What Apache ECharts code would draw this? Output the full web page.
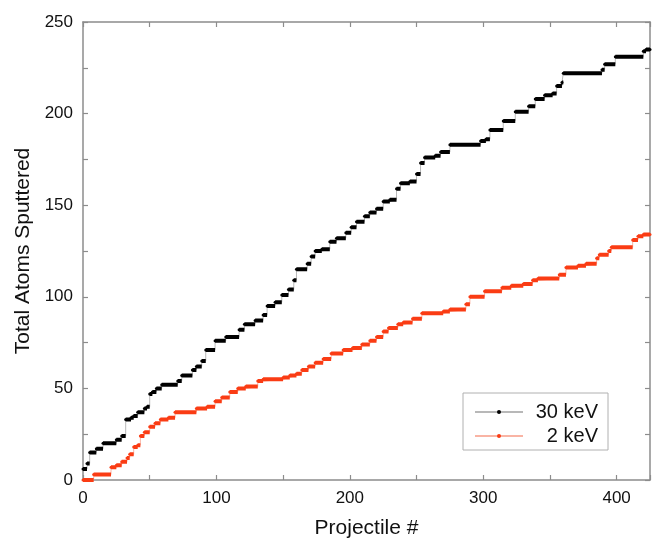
<!DOCTYPE html>
<html>
<head>
<meta charset="utf-8">
<script src="https://cdn.jsdelivr.net/npm/echarts@6/dist/echarts.min.js"></script>
<style>
html,body{margin:0;padding:0;background:#fff}
#MyChart{width:652px;height:540px}
</style>
</head>
<body>
<div id="MyChart"></div>
<script>
// projectile # where the running total changes, and the new total
var kev30X = [0, 3, 5, 10, 15, 25, 29, 32, 36, 38, 41, 46, 48, 50, 52, 55, 59, 71, 74, 82,
	85, 89, 92, 99, 107, 117, 121, 129, 135, 138, 144, 149, 154, 158, 160, 168, 171, 174, 179, 185,
	190, 197, 201, 205, 211, 215, 220, 225, 230, 235, 238, 245, 250, 253, 256, 264, 268, 275, 298, 302,
	305, 315, 324, 334, 339, 346, 352, 355, 359, 360, 389, 391, 399, 420, 422, 425];
var kev30Y = [6, 9, 15, 17, 20, 22, 24, 33, 34, 35, 37, 39, 40, 47, 48, 50, 52, 54, 57, 60,
	62, 65, 71, 76, 78, 82, 85, 87, 90, 95, 97, 101, 104, 109, 115, 118, 122, 125, 126, 130,
	132, 135, 138, 141, 144, 146, 148, 152, 153, 159, 162, 163, 167, 173, 176, 177, 179, 183, 185, 186,
	191, 196, 201, 204, 208, 210, 211, 215, 217, 222, 224, 227, 231, 234, 235, 235];

var kev2X = [0, 8, 21, 25, 29, 33, 35, 38, 41, 43, 46, 50, 54, 58, 64, 69, 85, 93, 99, 104,
	110, 116, 122, 131, 135, 150, 155, 160, 164, 169, 174, 180, 186, 195, 202, 209, 215, 220, 225, 229,
	236, 240, 247, 254, 270, 275, 287, 290, 301, 314, 321, 330, 337, 341, 357, 362, 371, 377, 385, 387,
	394, 396, 412, 416, 420, 425];
var kev2Y = [0, 3, 7, 8, 10, 12, 14, 18, 19, 24, 26, 29, 31, 33, 34, 37, 39, 40, 43, 45,
	48, 50, 51, 54, 55, 56, 57, 58, 60, 62, 64, 66, 69, 71, 72, 74, 76, 78, 81, 83,
	85, 86, 88, 91, 92, 93, 96, 100, 103, 105, 106, 107, 109, 110, 112, 116, 117, 118, 121, 123,
	125, 127, 131, 133, 134, 134];

var seriesNames = ['30 keV', '2 keV'];

var FONT = 'Liberation Sans, Arial, sans-serif';
var AXIS_GRAY = '#8c8c8c';

// breakpoints -> points for the step line
function toPoints(xs, ys) {
	var a = [];
	for (let i = 0; i < xs.length; i++) a.push([xs[i], ys[i]]);
	return a;
}
// breakpoints -> flat thick pieces (one per level), broken between levels
function toDashes(xs, ys) {
	var a = [];
	for (let i = 0; i < xs.length - 1; i++) {
		a.push([xs[i], ys[i]]);
		a.push([xs[i + 1], ys[i]]);
		a.push([xs[i + 1], '-']);
	}
	return a;
}

function frameAxis(pos, isX) {
	return {
		type: 'value',
		position: pos,
		min: 0,
		max: isX ? 425 : 250,
		interval: isX ? 50 : 25,
		axisLine: { show: true, onZero: false, lineStyle: { color: AXIS_GRAY, width: 1.5 } },
		axisTick: { show: true, inside: true, length: 5, lineStyle: { color: AXIS_GRAY, width: 1.2 } },
		axisLabel: { show: false },
		splitLine: { show: false }
	};
}

var option = {
	backgroundColor: '#fff',
	animation: false,
	grid: { left: 83, right: 2, top: 22, bottom: 60, containLabel: false, outerBoundsMode: 'none' },
	legend: {
		data: seriesNames,
		orient: 'vertical',
		left: 463,
		top: 393,
		itemWidth: 48,
		itemHeight: 5,
		itemGap: 4,
		padding: [9, 10, 4, 11],
		borderColor: '#b0b0b0',
		borderWidth: 1,
		formatter: '{a|{name}}',
		textStyle: {
			rich: {
				a: { width: 70, align: 'right', fontSize: 20, fontFamily: FONT, color: '#111' }
			}
		}
	},
	xAxis: [{
		type: 'value',
		min: 0,
		max: 425,
		interval: 50,
		name: 'Projectile #',
		nameLocation: 'middle',
		nameGap: 38,
		nameTextStyle: { fontSize: 21, fontFamily: FONT, color: '#111' },
		axisLine: { show: true, onZero: false, lineStyle: { color: AXIS_GRAY, width: 1.5 } },
		axisTick: { show: true, inside: true, length: 5, lineStyle: { color: AXIS_GRAY, width: 1.2 } },
		axisLabel: {
			margin: 10,
			fontSize: 17,
			fontFamily: FONT,
			color: '#111',
			formatter: function (v) { return v % 100 === 0 ? String(v) : ''; }
		},
		splitLine: { show: false }
	}, frameAxis('top', true)],
	yAxis: [{
		type: 'value',
		min: 0,
		max: 250,
		interval: 25,
		name: 'Total Atoms Sputtered',
		nameLocation: 'middle',
		nameGap: 49,
		nameTextStyle: { fontSize: 21, fontFamily: FONT, color: '#111' },
		axisLine: { show: true, onZero: false, lineStyle: { color: AXIS_GRAY, width: 1.5 } },
		axisTick: { show: true, inside: true, length: 5, lineStyle: { color: AXIS_GRAY, width: 1.2 } },
		axisLabel: {
			margin: 10,
			fontSize: 17,
			fontFamily: FONT,
			color: '#111',
			formatter: function (v) { return v % 50 === 0 ? String(v) : ''; }
		},
		splitLine: { show: false }
	}, frameAxis('right', false)],
	series: [{
		name: seriesNames[0],
		type: 'line',
		step: 'end',
		symbol: 'circle',
		symbolSize: 3,
		itemStyle: { color: '#000' },
		lineStyle: { color: '#b8b8b8', width: 1 },
		data: toPoints(kev30X, kev30Y),
		z: 2
	}, {
		name: seriesNames[1],
		type: 'line',
		step: 'end',
		symbol: 'circle',
		symbolSize: 3,
		itemStyle: { color: '#fa3c14' },
		lineStyle: { color: '#f9b4a4', width: 1 },
		data: toPoints(kev2X, kev2Y),
		z: 2
	}, {
		name: '30 keV dots',
		type: 'line',
		silent: true,
		showSymbol: false,
		connectNulls: false,
		lineStyle: { color: '#000', width: 4, cap: 'butt' },
		data: toDashes(kev30X, kev30Y),
		z: 3
	}, {
		name: '2 keV dots',
		type: 'line',
		silent: true,
		showSymbol: false,
		connectNulls: false,
		lineStyle: { color: '#fa3c14', width: 4, cap: 'butt' },
		data: toDashes(kev2X, kev2Y),
		z: 3
	}]
};

var myChart = echarts.init(document.getElementById('MyChart'));
myChart.setOption(option);
</script>
</body>
</html>
